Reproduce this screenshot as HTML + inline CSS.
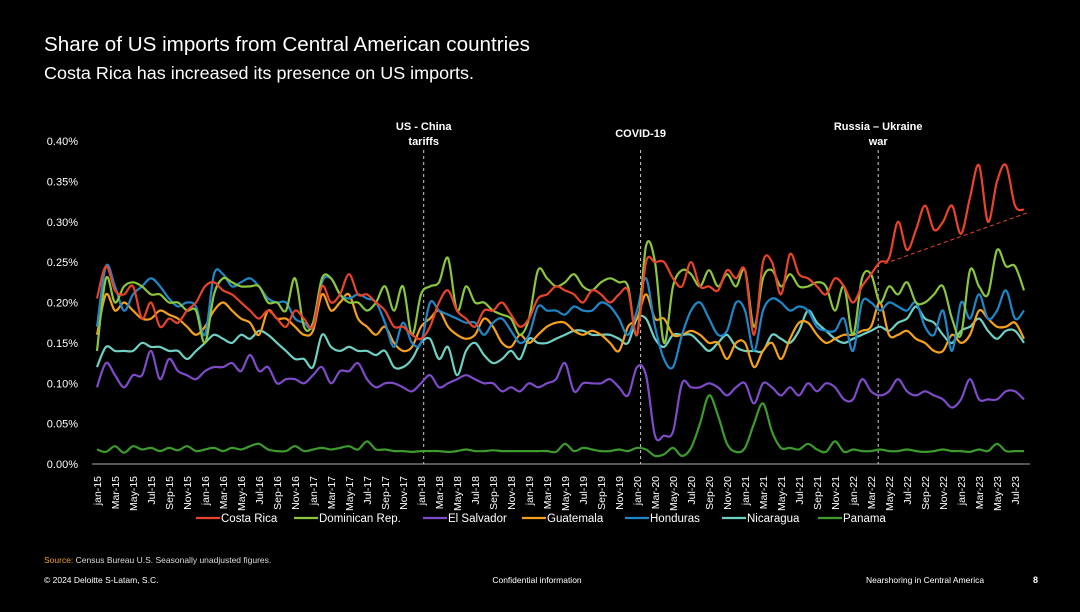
<!DOCTYPE html>
<html><head><meta charset="utf-8"><style>
html,body{margin:0;padding:0;background:#000;}
body{width:1080px;height:607px;overflow:hidden;font-family:"Liberation Sans",sans-serif;color:#fff;}
</style></head><body>
<svg id="chart" width="1080" height="607" viewBox="0 0 1080 607" xmlns="http://www.w3.org/2000/svg" font-family="Liberation Sans, sans-serif">
<text x="44" y="51" font-size="20" textLength="486" lengthAdjust="spacingAndGlyphs" fill="#fff">Share of US imports from Central American countries</text>
<text x="44" y="79" font-size="17.5" textLength="430" lengthAdjust="spacingAndGlyphs" fill="#fff">Costa Rica has increased its presence on US imports.</text>
<g id="yaxis"></g>
<g id="xaxis"></g>
<g id="events"></g>
<g id="series"></g>
<g id="legend"></g>
<text x="44" y="563" font-size="8.5" fill="#ddd"><tspan fill="#f0a030">Source:</tspan> Census Bureau U.S. Seasonally unadjusted figures.</text>
<text x="44" y="583" font-size="8.5" fill="#fff">© 2024 Deloitte S-Latam, S.C.</text>
<text x="537" y="583" font-size="8.5" fill="#fff" text-anchor="middle">Confidential information</text>
<text x="866" y="583" font-size="8.5" fill="#fff">Nearshoring in Central America</text>
<text x="1033" y="583" font-size="9" font-weight="bold" fill="#fff">8</text>
</svg>
<script>
const yTicks=[0,0.05,0.10,0.15,0.20,0.25,0.30,0.35,0.40];
const costaRica=[.205,.245,.215,.21,.22,.18,.20,.17,.18,.175,.19,.20,
.22,.225,.215,.21,.20,.19,.18,.19,.18,.17,.19,.18,
.17,.22,.20,.21,.235,.21,.21,.20,.19,.17,.17,.16,
.155,.17,.20,.215,.19,.18,.17,.19,.19,.20,.185,.17,
.18,.205,.21,.22,.215,.21,.20,.215,.21,.20,.21,.215,
.16,.25,.25,.25,.23,.22,.25,.22,.22,.215,.24,.23,
.24,.16,.25,.25,.21,.26,.235,.23,.22,.21,.23,.22,
.20,.22,.235,.25,.255,.30,.265,.29,.32,.29,.30,.32,
.285,.33,.37,.30,.35,.37,.32,.315];
const dominican=[.14,.23,.20,.22,.225,.22,.21,.21,.20,.20,.19,.19,
.15,.21,.23,.225,.22,.22,.22,.20,.20,.19,.23,.17,
.175,.23,.23,.21,.20,.20,.19,.20,.22,.19,.22,.16,
.21,.22,.225,.255,.19,.22,.20,.20,.19,.185,.18,.16,
.18,.24,.23,.22,.225,.235,.22,.215,.225,.23,.225,.22,
.16,.27,.25,.15,.22,.24,.235,.22,.24,.22,.235,.22,
.24,.17,.23,.24,.22,.235,.22,.22,.225,.22,.19,.22,
.16,.23,.235,.20,.22,.21,.225,.20,.20,.21,.22,.18,
.16,.24,.22,.21,.265,.245,.245,.215];
const elSalvador=[.095,.125,.11,.095,.11,.11,.14,.105,.13,.115,.11,.105,
.115,.12,.12,.125,.115,.135,.115,.12,.10,.105,.105,.10,
.11,.12,.10,.115,.115,.125,.105,.095,.10,.10,.095,.09,
.10,.11,.095,.10,.105,.11,.105,.10,.10,.09,.095,.09,
.10,.095,.10,.105,.125,.09,.10,.10,.10,.105,.095,.085,
.12,.11,.035,.035,.04,.10,.095,.095,.10,.095,.085,.095,
.10,.075,.10,.095,.085,.095,.085,.10,.09,.10,.095,.08,
.08,.105,.09,.085,.09,.105,.09,.085,.09,.085,.08,.07,
.08,.105,.08,.08,.08,.09,.09,.08];
const guatemala=[.16,.21,.19,.20,.19,.18,.18,.19,.185,.18,.17,.16,
.17,.19,.20,.19,.18,.175,.16,.19,.18,.18,.17,.16,
.165,.21,.19,.20,.21,.18,.17,.16,.17,.15,.14,.145,
.17,.18,.19,.17,.16,.155,.16,.18,.17,.15,.145,.16,
.15,.16,.17,.175,.175,.165,.16,.165,.16,.15,.14,.17,
.18,.21,.18,.18,.16,.16,.165,.16,.15,.15,.13,.15,
.15,.12,.14,.15,.13,.155,.175,.175,.16,.15,.155,.16,
.16,.165,.17,.20,.16,.16,.165,.155,.15,.14,.14,.16,
.15,.16,.19,.18,.17,.17,.175,.155];
const honduras=[.17,.245,.22,.19,.21,.22,.23,.22,.205,.195,.20,.195,
.16,.235,.235,.22,.225,.23,.22,.205,.20,.20,.18,.175,
.17,.225,.23,.21,.205,.21,.205,.20,.175,.145,.175,.15,
.15,.20,.19,.185,.18,.175,.175,.16,.175,.18,.165,.15,
.16,.195,.19,.19,.185,.195,.19,.19,.20,.195,.18,.16,
.19,.23,.17,.13,.12,.16,.19,.20,.18,.16,.165,.20,
.19,.14,.19,.205,.20,.19,.195,.19,.17,.165,.165,.18,
.14,.20,.20,.19,.20,.195,.19,.20,.17,.16,.19,.14,
.20,.18,.21,.18,.19,.215,.18,.19];
const nicaragua=[.12,.145,.14,.14,.14,.15,.145,.145,.14,.14,.13,.14,
.15,.16,.155,.15,.16,.155,.165,.16,.15,.14,.13,.13,
.12,.16,.145,.14,.145,.14,.14,.135,.14,.12,.12,.13,
.15,.155,.13,.145,.11,.14,.15,.135,.125,.13,.14,.13,
.155,.15,.15,.155,.16,.165,.165,.16,.16,.16,.155,.15,
.18,.18,.155,.145,.16,.16,.16,.15,.14,.15,.16,.145,
.14,.14,.14,.16,.155,.15,.165,.19,.175,.165,.155,.15,
.155,.16,.165,.17,.165,.175,.18,.195,.18,.175,.16,.15,
.165,.17,.18,.165,.155,.165,.165,.15];
const panama=[.018,.015,.022,.014,.022,.018,.02,.016,.02,.017,.022,.016,
.018,.02,.016,.02,.018,.022,.025,.018,.016,.016,.022,.016,
.018,.02,.018,.02,.022,.018,.028,.018,.018,.016,.016,.015,
.016,.016,.016,.015,.016,.018,.016,.016,.017,.016,.016,.016,
.016,.016,.016,.015,.025,.016,.02,.018,.016,.016,.018,.016,
.02,.018,.01,.012,.02,.01,.02,.05,.085,.06,.025,.015,
.02,.05,.075,.04,.02,.02,.018,.025,.018,.015,.028,.015,
.018,.016,.016,.018,.016,.016,.018,.016,.015,.016,.018,.016,
.016,.015,.018,.016,.025,.016,.016,.016];
const seriesNames=["Costa Rica","Dominican Rep.","El Salvador","Guatemala","Honduras","Nicaragua","Panama"];
const seriesData=[costaRica,dominican,elSalvador,guatemala,honduras,nicaragua,panama];
const seriesColors=["#e8432b","#8cc63f","#7e4bc9","#f5a01a","#1f87c8","#6fd0c4","#3d9a2c"];
const monthNames=["jan","Mar","May","Jul","Sep","Nov"];
const eventMonths=[36.3,60.4,86.8];
const eventLabels=[["US - China","tariffs"],["COVID-19"],["Russia – Ukraine","war"]];
const trendStart=[87.5,0.248];
const trendEnd=[102.5,0.312];

const NS="http://www.w3.org/2000/svg";
const X0=97,DX=9.0,Y0=464,YS=807.5;
const xs=i=>X0+i*DX;
const ys=v=>Y0-v*YS;
function mk(tag,attrs,parent){const e=document.createElementNS(NS,tag);for(const k in attrs)e.setAttribute(k,attrs[k]);parent.appendChild(e);return e;}
const yax=document.getElementById('yaxis');
yTicks.forEach(t=>{const e=mk('text',{x:78,y:ys(t)+4,'font-size':11,fill:'#fff','text-anchor':'end'},yax);


e.textContent=t.toFixed(2)+'%';});
const xax=document.getElementById('xaxis');
const base=mk('line',{x1:92,x2:1030,y1:Y0,y2:Y0,stroke:'#aaa','stroke-width':1},xax);


const n=costaRica.length;
for(let i=0;i<n;i+=2){const yr=15+Math.floor(i/12);const lab=monthNames[(i%12)/2]+'-'+yr;
const x=xs(i)+4;const e=mk('text',{x:x,y:476,'font-size':10.5,fill:'#fff','text-anchor':'end',transform:`rotate(-90 ${x} 476)`},xax);


e.textContent=lab;}
const ev=document.getElementById('events');
eventMonths.forEach((m,k)=>{const x=xs(m);
const l=mk('line',{x1:x,x2:x,y1:150,y2:Y0,stroke:'#ccc','stroke-width':1,'stroke-dasharray':'3,3'},ev);


const lines=eventLabels[k];const y0=lines.length>1?130:137;
lines.forEach((s,j)=>{const t=mk('text',{x:x,y:y0+j*15,'font-size':11,'font-weight':'bold',fill:'#fff','text-anchor':'middle'},ev);


t.textContent=s;});});
function smooth(pts){let d=`M${pts[0][0]},${pts[0][1]}`;for(let i=0;i<pts.length-1;i++){const p0=pts[i-1]||pts[i],p1=pts[i],p2=pts[i+1],p3=pts[i+2]||p2;
const c1=[p1[0]+(p2[0]-p0[0])/6,p1[1]+(p2[1]-p0[1])/6],c2=[p2[0]-(p3[0]-p1[0])/6,p2[1]-(p3[1]-p1[1])/6];
d+=`C${c1[0].toFixed(1)},${c1[1].toFixed(1)} ${c2[0].toFixed(1)},${c2[1].toFixed(1)} ${p2[0].toFixed(1)},${p2[1].toFixed(1)}`;}return d;}
const sg=document.getElementById('series');
const order=[6,2,5,3,4,1,0];
order.forEach(k=>{const pts=seriesData[k].map((v,i)=>[xs(i),ys(v)]);
const p=mk('path',{d:smooth(pts),fill:'none',stroke:seriesColors[k],'stroke-width':2.2,'stroke-linejoin':'round'},sg);

});
const tr=mk('line',{x1:xs(trendStart[0]),y1:ys(trendStart[1]),x2:xs(trendEnd[0])+10,y2:ys(trendEnd[1]),stroke:'#e8432b','stroke-width':1,'stroke-dasharray':'4,3'},sg);


const lg=document.getElementById('legend');
const lx=[196,294,423,522,625,722,818];
seriesNames.forEach((s,k)=>{
const l=mk('line',{x1:lx[k],x2:lx[k]+24,y1:518,y2:518,stroke:seriesColors[k],'stroke-width':2.2},lg);


const t=mk('text',{x:lx[k]+25,y:522,'font-size':11.5,fill:'#fff'},lg);


t.textContent=s;});
</script>
</body></html>
